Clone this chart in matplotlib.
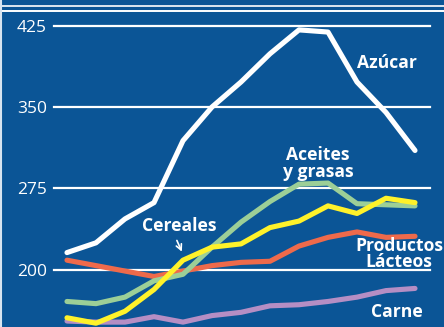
import matplotlib
matplotlib.use("Agg")
import matplotlib.pyplot as plt
from matplotlib.lines import Line2D

# Data (13 periods)
periods = list(range(13))
azucar = [216, 225, 247, 262, 319, 350, 373, 399, 421, 419, 373, 345, 310]
aceites = [171, 169, 175, 190, 196, 221, 244, 263, 279, 280, 261, 260, 259]
cereales = [156, 151, 162, 182, 209, 221, 224, 239, 245, 259, 252, 266, 262]
lacteos = [209, 204, 199, 194, 199, 204, 207, 208, 222, 230, 235, 230, 231]
carne = [153, 152, 152, 157, 152, 158, 161, 167, 168, 171, 175, 181, 183]
yticks = [200, 275, 350, 425]

bg = "#0B5596"
c_white = "#FFFFFF"
c_green = "#9CCF97"
c_yellow = "#FFF22A"
c_red = "#EE6A4B"
c_purple = "#B58EC4"

fig = plt.figure(figsize=(4.44, 3.27), dpi=100, facecolor=bg)
ax = fig.add_axes([0, 0, 1, 1], facecolor=bg)

ax.set_xlim(-2.31, 13.0)
ax.set_ylim(147.5, 448.5)

# gridlines
for v in yticks:
    ax.axhline(v, xmin=54/444, xmax=430/444, color="white", lw=1.6, zorder=1)

lw = 3.7
kw = dict(lw=lw, solid_capstyle="round", solid_joinstyle="round")
ax.plot(periods, carne, color=c_purple, zorder=3, **kw)
ax.plot(periods, lacteos, color=c_red, zorder=3, **kw)
ax.plot(periods, aceites, color=c_green, zorder=3, **kw)
ax.plot(periods, cereales, color=c_yellow, zorder=4, **kw)
ax.plot(periods, azucar, color=c_white, zorder=5, **kw)

# y tick labels inside
ax.set_yticks(yticks)
ax.set_yticklabels([str(v) for v in yticks])
ax.tick_params(axis="y", length=0, pad=-47*72/100, labelsize=12.5, labelcolor="white")
ax.set_xticks([])
for s in ax.spines.values():
    s.set_visible(False)
for t in ax.get_yticklabels():
    t.set_fontfamily("Open Sans")

lab = dict(color="white", fontsize=12.6, fontweight="bold", family="Open Sans", zorder=6)
ax.text(10.0, 390.5, "Azúcar", ha="left", va="center", **lab)
ax.text(8.66, 298, "Aceites\ny grasas", ha="center", va="center", linespacing=0.92, **lab)
ax.text(2.6, 240.5, "Cereales", ha="left", va="center", **lab)
ax.text(11.45, 214.7, "Productos\nLácteos", ha="center", va="center", linespacing=0.92, **lab)
ax.text(10.5, 161.4, "Carne", ha="left", va="center", **lab)
ax.annotate("", xy=(4.0, 214.5), xytext=(3.75, 229.5),
            arrowprops=dict(arrowstyle="->", color="white", lw=1.2), zorder=6)

# top double rule and left edge
fig.add_artist(Line2D([0, 1], [1 - 5.5/327, 1 - 5.5/327], color="white", lw=1.2))
fig.add_artist(Line2D([0, 1], [1 - 10.5/327, 1 - 10.5/327], color="white", lw=1.4))
fig.add_artist(Line2D([0.5/444, 0.5/444], [0, 1], color="#D8E4F0", lw=1.5))

fig.savefig("out.png", dpi=100, facecolor=bg)
